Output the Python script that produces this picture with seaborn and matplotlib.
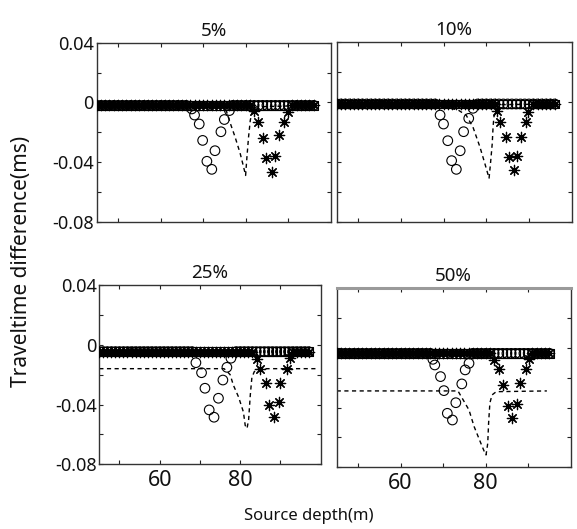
import numpy as np
import pandas as pd
import matplotlib
matplotlib.use("Agg")
import matplotlib.pyplot as plt
import seaborn as sns

sns.set_style("ticks")
plt.rcParams["font.family"] = ["Noto Sans", "DejaVu Sans"]
plt.rcParams["xtick.direction"] = "in"
plt.rcParams["ytick.direction"] = "in"
plt.rcParams["axes.unicode_minus"] = False

# ---- data ---------------------------------------------------------------
panel_titles = ["5%", "10%", "25%", "50%"]

# level of the flat part of each marker series (ms) and last sampled depth
baseline = [-0.002, -0.0015, -0.0046, -0.0036]
grid_end = [96, 96, 97, 95]

# circle series: points that leave the baseline
circle_x = [
    [67.35, 68.0, 69.1, 69.9, 70.9, 72.05, 72.8, 74.2, 75.0, 76.2],
    [69.2, 70.0, 71.0, 71.9, 73.0, 73.9, 74.7, 75.9, 76.9],
    [69.0, 70.4, 71.25, 72.3, 73.5, 74.6, 75.7, 76.7, 77.7],
    [67.6, 68.05, 69.4, 70.2, 71.0, 72.2, 73.0, 74.4, 75.2, 76.1],
]
circle_y = [
    [-0.0044, -0.0085, -0.0145, -0.0255, -0.0395, -0.0449, -0.0324, -0.0197, -0.0115, -0.0055],
    [-0.0089, -0.0149, -0.0260, -0.0393, -0.0451, -0.0327, -0.0200, -0.0111, -0.0044],
    [-0.0120, -0.0187, -0.0291, -0.0436, -0.0485, -0.0358, -0.0236, -0.0151, -0.0090],
    [-0.0076, -0.0114, -0.0192, -0.0286, -0.0438, -0.0483, -0.0367, -0.0241, -0.0147, -0.0103],
]

# asterisk series: points that leave the baseline
star_x = [
    [82.0, 83.0, 84.06, 84.84, 86.18, 86.96, 87.9, 89.07, 89.85],
    [82.55, 83.18, 84.6, 85.39, 86.5, 87.28, 88.08, 89.33, 89.86],
    [84.2, 85.0, 86.4, 87.25, 88.5, 89.6, 90.0, 91.7, 92.3],
    [82.07, 83.25, 84.2, 85.2, 86.27, 87.36, 88.17, 89.4, 90.2],
]
star_y = [
    [-0.0056, -0.0133, -0.0241, -0.0375, -0.0465, -0.0357, -0.0219, -0.0133, -0.0062],
    [-0.0060, -0.0137, -0.0233, -0.0367, -0.0455, -0.0360, -0.0233, -0.0133, -0.0067],
    [-0.0097, -0.0164, -0.0258, -0.0403, -0.0481, -0.0381, -0.0254, -0.0164, -0.0090],
    [-0.0080, -0.0143, -0.0248, -0.0389, -0.0471, -0.0375, -0.0237, -0.0143, -0.0076],
]

# dashed reference curve
curve_x = [
    [45, 74.5, 75.5, 76.4, 77.5, 78.7, 79.5, 80.0, 80.3, 80.7, 81.1, 81.5, 82.5, 96],
    [45, 71.0, 73.4, 75.3, 76.9, 78.5, 79.65, 80.66, 81.0, 81.4, 81.6, 81.8, 82.5, 83.5, 96],
    [45, 76.0, 76.8, 77.5, 78.3, 79.6, 80.8, 81.25, 81.7, 82.1, 82.5, 82.9, 83.5, 84.5, 99],
    [45, 73.5, 74.5, 76.1, 77.3, 78.9, 79.7, 80.1, 80.5, 80.7, 81.0, 81.5, 82.5, 94.4],
]
curve_y = [
    [-0.002, -0.003, -0.006, -0.014, -0.023, -0.034, -0.043, -0.049, -0.037, -0.023, -0.012, -0.007, -0.003, -0.002],
    [-0.0015, -0.004, -0.0055, -0.009, -0.017, -0.030, -0.041, -0.051, -0.041, -0.028, -0.0167, -0.010, -0.005, -0.002, -0.0015],
    [-0.016, -0.016, -0.018, -0.020, -0.027, -0.035, -0.045, -0.054, -0.056, -0.050, -0.034, -0.022, -0.018, -0.016, -0.016],
    [-0.0288, -0.0288, -0.0337, -0.0416, -0.0527, -0.064, -0.0695, -0.0717, -0.064, -0.0505, -0.037, -0.0315, -0.0293, -0.0288],
]

x_ticks = [50, 60, 70, 80, 90]
x_ticklabels = ["", "60", "", "80", ""]
y_ticks = [0.04, 0.02, 0.0, -0.02, -0.04, -0.06, -0.08]
y_ticklabels = ["0.04", "", "0", "", "-0.04", "", "-0.08"]

# ---- figure -------------------------------------------------------------
W, H = 577, 529
fig = plt.figure(figsize=(W / 100, H / 100), dpi=100)

# axes boxes in pixels: left, right, top, bottom
boxes = [
    (96.7, 330.7, 42.7, 221.7),
    (336.7, 571.7, 41.7, 221.7),
    (99.3, 320.7, 285.0, 464.3),
    (336.7, 570.7, 288.3, 467.3),
]

for i, (l, r, t, b) in enumerate(boxes):
    ax = fig.add_axes([l / W, 1 - b / H, (r - l) / W, (b - t) / H])
    base = baseline[i]
    grid = list(range(45, grid_end[i] + 1))

    cx, cy = circle_x[i], circle_y[i]
    sx, sy = star_x[i], star_y[i]
    c_flat = [d for d in grid if d < cx[0] - 0.5 or d > cx[-1] + 0.5]
    s_flat = [d for d in grid if d < sx[0] - 0.5 or d > sx[-1] + 0.5]

    squares = pd.DataFrame({"depth": grid, "dt": [base] * len(grid)})
    circles = pd.DataFrame({"depth": c_flat + cx, "dt": [base] * len(c_flat) + cy})
    stars = pd.DataFrame({"depth": s_flat + sx, "dt": [base] * len(s_flat) + sy})
    curve = pd.DataFrame({"depth": curve_x[i], "dt": curve_y[i]})

    sns.lineplot(data=curve, x="depth", y="dt", ax=ax, color="black",
                 linewidth=1.0, linestyle=(0, (3, 2.5)), estimator=None,
                 sort=False, zorder=2)
    sns.scatterplot(data=squares, x="depth", y="dt", ax=ax, marker="s", s=36,
                    fc="none", ec="black", linewidth=0.8, zorder=3)
    sns.scatterplot(data=circles, x="depth", y="dt", ax=ax, marker="o", s=48,
                    fc="none", ec="black", linewidth=0.8, zorder=3)
    sns.scatterplot(data=stars, x="depth", y="dt", ax=ax, marker=(8, 2, 0), s=55,
                    color="black", linewidth=0.9, zorder=3)

    ax.set_xlim(45, 100)
    ax.set_ylim(-0.08, 0.04)
    ax.set_xticks(x_ticks)
    ax.set_yticks(y_ticks)
    if i >= 2:
        ax.set_xticklabels(x_ticklabels)
    else:
        ax.set_xticklabels([])
    if i % 2 == 0:
        ax.set_yticklabels(y_ticklabels)
    else:
        ax.set_yticklabels([])
    ax.tick_params(axis="both", which="both", direction="in", length=3,
                   width=0.8, top=True, right=True, pad=2,
                   colors="#222222", labelcolor="#111111")
    ax.tick_params(axis="y", labelsize=13)
    ax.tick_params(axis="x", labelsize=15.5, pad=4)
    for sp in ax.spines.values():
        sp.set_color("#333333")
        sp.set_linewidth(1.0)
        sp.set_visible(True)
    if i == 3:
        ax.spines["top"].set_color("#9a9a9a")
        ax.spines["top"].set_linewidth(2.2)
    ax.set_xlabel("")
    ax.set_ylabel("")
    ax.set_title(panel_titles[i], fontsize=13.5, pad=5, color="#111111")

fig.text(22 / W, 1 - 261 / H, "Traveltime difference(ms)", rotation=90,
         ha="center", va="center", fontsize=15, color="#111111")
fig.text(309 / W, 1 - 516 / H, "Source depth(m)", ha="center", va="center",
         fontsize=12, color="#111111")

fig.savefig("out.png", dpi=100)
